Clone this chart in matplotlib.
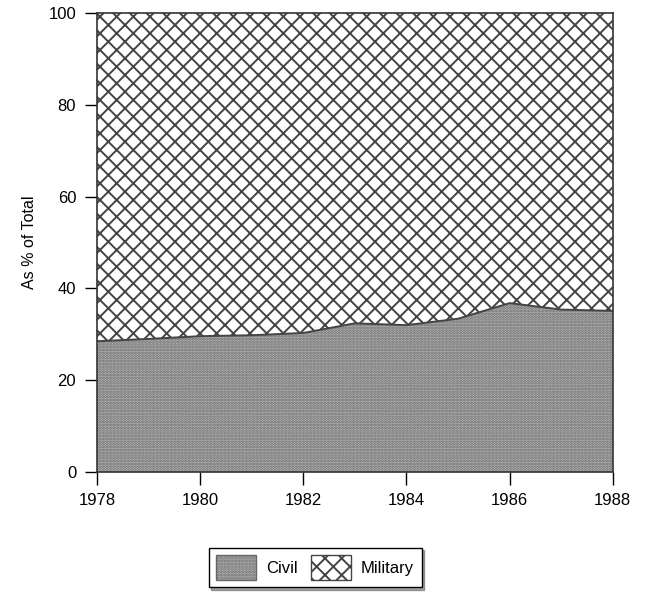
import numpy as np
import matplotlib
matplotlib.use("Agg")
import matplotlib.pyplot as plt
from matplotlib.patches import Patch

# data (civil share, % of total)
years = [1978, 1979, 1980, 1981, 1982, 1983, 1984, 1985, 1986, 1987, 1988]
civil = [28.5, 29.0, 29.6, 29.8, 30.3, 32.4, 32.0, 33.4, 36.8, 35.4, 35.1]
military = [100 - c for c in civil]
xticks = [1978, 1980, 1982, 1984, 1986, 1988]
yticks = [0, 20, 40, 60, 80, 100]

plt.rcParams["font.family"] = ["Liberation Sans", "DejaVu Sans"]
plt.rcParams["hatch.linewidth"] = 1.4

fig = plt.figure(figsize=(6.47, 5.93), dpi=100)
ax = fig.add_axes([0.150, 0.204, 0.797, 0.774])

x = np.array(years)
c = np.array(civil)
m = np.array(military)

civ_style = dict(facecolor="#bcbcbc", edgecolor="#666666", hatch="......")
mil_style = dict(facecolor="white", edgecolor="#444444", hatch="xx")

ax.fill_between(x, 0, c, linewidth=0, **civ_style)
ax.fill_between(x, c, c + m, linewidth=0, **mil_style)
ax.plot(x, c, color="#444444", lw=1.4)

ax.set_xlim(1978, 1988)
ax.set_ylim(0, 100)
ax.set_xticks(xticks)
ax.set_yticks(yticks)
ax.tick_params(direction="out", length=9, width=1, labelsize=12, pad=6)
for s in ax.spines.values():
    s.set_linewidth(1.2)
    s.set_color("#333333")
ax.set_ylabel("As % of Total", fontsize=11.5, labelpad=8)

handles = [Patch(label="Civil", linewidth=1, **civ_style),
           Patch(label="Military", linewidth=1, **mil_style)]
leg = fig.legend(handles=handles, loc="center", ncol=2,
                 bbox_to_anchor=(0.487, 0.043), fontsize=12,
                 fancybox=False, shadow=True, edgecolor="black",
                 handlelength=2.4, handleheight=1.9, columnspacing=0.8,
                 handletextpad=0.6, borderpad=0.45)
leg.get_frame().set_linewidth(1.0)

fig.savefig("out.png", dpi=100)
